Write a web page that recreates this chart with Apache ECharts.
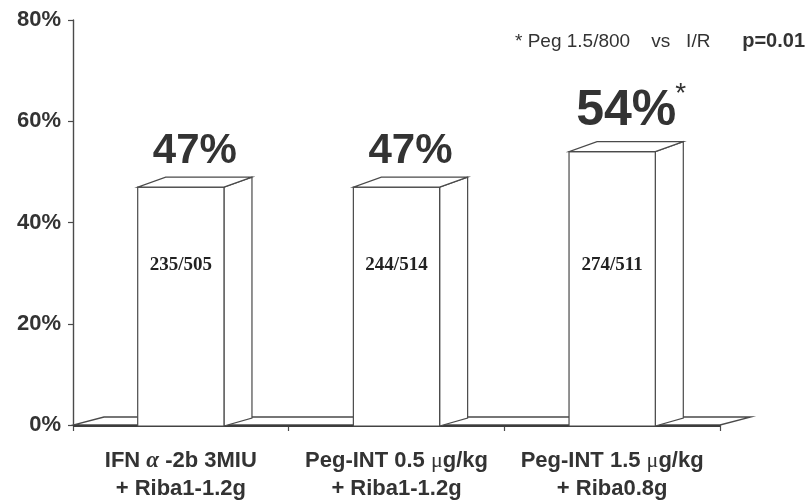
<!DOCTYPE html>
<html>
<head>
<meta charset="utf-8">
<script src="https://cdn.jsdelivr.net/npm/echarts@6/dist/echarts.min.js"></script>
<style>
  html, body { margin: 0; padding: 0; background: #fff; }
  #chart { width: 812px; height: 500px; }
</style>
</head>
<body>
<div id="chart"></div>
<script>
// Sustained response rates by treatment arm
const categories = [
  'IFN α -2b 3MIU\n+ Riba1-1.2g',
  'Peg-INT 0.5 μg/kg\n+ Riba1-1.2g',
  'Peg-INT 1.5 μg/kg\n+ Riba0.8g'
];
const responseRates = [47, 47, 54];      // percent
const responders = [235, 244, 274];
const patients = [505, 514, 511];
const significance = ['', '', '*'];
const yTicks = [0, 20, 40, 60, 80];
const footnote = '* Peg 1.5/800    vs   I/R';
const pValue = 'p=0.01';

const SANS = '"Liberation Sans", Arial, sans-serif';
const SERIF = '"Liberation Serif", "Times New Roman", serif';
const INK = '#333';
const EDGE = '#4a4a4a';

// Oblique depth offsets for the pseudo-3D look
const BAR_DX = 28, BAR_DY = -10;
const FLOOR_DX = 31, FLOOR_DY = -8;

function renderFloor(params, api) {
  const cs = params.coordSys;
  const x0 = cs.x, x1 = cs.x + cs.width, y = cs.y + cs.height;
  return {
    type: 'group',
    children: [
      {
        type: 'polygon',
        shape: { points: [[x0, y], [x1, y], [x1 + FLOOR_DX, y + FLOOR_DY], [x0 + FLOOR_DX, y + FLOOR_DY]] },
        style: { fill: '#fff', stroke: EDGE, lineWidth: 1.3 }
      },
      {
        type: 'line',
        shape: { x1: x0, y1: y + 1, x2: x1, y2: y + 1 },
        style: { stroke: '#3c3c3c', lineWidth: 2.2 }
      }
    ]
  };
}

function renderBar(params, api) {
  const i = api.value(0);
  const v = api.value(1);
  const top = api.coord([i, v]);
  const base = api.coord([i, 0]);
  const w = api.size([1, 0])[0] * 0.4;
  const l = top[0] - w / 2, r = top[0] + w / 2;
  const yt = top[1], yb = base[1] + 1;
  const cs = params.coordSys;
  const stroke = { fill: '#fff', stroke: EDGE, lineWidth: 1.2 };

  const emphasised = significance[i] !== '';
  const fs = emphasised ? 50 : 42;
  const labelBottom = yt + BAR_DY - 5;
  const labelX = top[0] + BAR_DX / 2;

  const children = [
    { type: 'polygon', shape: { points: [[r, yt], [r + BAR_DX, yt + BAR_DY], [r + BAR_DX, yb + FLOOR_DY], [r, yb]] }, style: stroke },
    { type: 'rect', shape: { x: l, y: yt, width: w, height: yb - yt }, style: stroke },
    { type: 'polygon', shape: { points: [[l, yt], [r, yt], [r + BAR_DX, yt + BAR_DY], [l + BAR_DX, yt + BAR_DY]] }, style: stroke },
    {
      type: 'text', x: labelX, y: labelBottom,
      style: { text: v + '%', fill: INK, fontSize: fs, fontWeight: 'bold', fontFamily: SANS, align: 'center', verticalAlign: 'bottom' }
    },
    {
      type: 'text', x: top[0], y: cs.y + cs.height * 0.6 + 2,
      style: { text: responders[i] + '/' + patients[i], fill: '#222', fontSize: 19, fontWeight: 'bold', fontFamily: SERIF, align: 'center', verticalAlign: 'middle' }
    }
  ];
  if (emphasised) {
    children.push({
      type: 'text', x: labelX + fs * 0.98, y: labelBottom - fs * 0.85,
      style: { text: significance[i], fill: INK, fontSize: 28, fontFamily: SANS, align: 'left', verticalAlign: 'middle' }
    });
  }
  return { type: 'group', children };
}

const chart = echarts.init(document.getElementById('chart'), null, { renderer: 'canvas' });
chart.setOption({
  animation: false,
  backgroundColor: '#fff',
  grid: { left: 73, right: 92, top: 20, bottom: 75, containLabel: false, outerBoundsMode: 'none' },
  xAxis: {
    type: 'category',
    data: categories,
    boundaryGap: true,
    axisLine: { show: false },
    axisTick: { show: true, length: 6, lineStyle: { color: EDGE, width: 1.2 } },
    axisLabel: {
      interval: 0,
      margin: 22,
      color: INK,
      fontSize: 22,
      fontWeight: 'bold',
      fontFamily: SANS,
      lineHeight: 28,
      formatter: (val) => val.split('\n').map(line =>
        line.replace(/α/g, '{a|α}').replace(/μ/g, '{m|μ}')
      ).join('\n'),
      rich: {
        a: { fontFamily: SERIF, fontStyle: 'italic', fontWeight: 'bold', fontSize: 23, color: INK, lineHeight: 28 },
        m: { fontFamily: SERIF, fontWeight: 'normal', fontSize: 22, color: INK, lineHeight: 28 }
      }
    }
  },
  yAxis: {
    type: 'value',
    min: yTicks[0],
    max: yTicks[yTicks.length - 1],
    interval: yTicks[1] - yTicks[0],
    splitLine: { show: false },
    axisLine: { show: true, lineStyle: { color: EDGE, width: 1.4 } },
    axisTick: { show: true, length: 5, lineStyle: { color: EDGE, width: 1.2 } },
    axisLabel: {
      margin: 12,
      color: INK,
      fontSize: 22,
      fontWeight: 'bold',
      fontFamily: SANS,
      formatter: (v) => v + '%'
    }
  },
  series: [
    {
      type: 'custom',
      renderItem: renderFloor,
      data: [[0, 0]],
      silent: true,
      z: 1
    },
    {
      type: 'custom',
      renderItem: renderBar,
      data: responseRates.map((v, i) => [i, v]),
      encode: { x: 0, y: 1 },
      silent: true,
      clip: false,
      z: 2
    }
  ],
  graphic: [
    {
      type: 'text', left: 515, top: 32,
      style: { text: footnote, fill: INK, fontSize: 19, fontFamily: SANS }
    },
    {
      type: 'text', right: 7, top: 31,
      style: { text: pValue, fill: INK, fontSize: 20, fontWeight: 'bold', fontFamily: SANS }
    }
  ]
});
</script>
</body>
</html>
